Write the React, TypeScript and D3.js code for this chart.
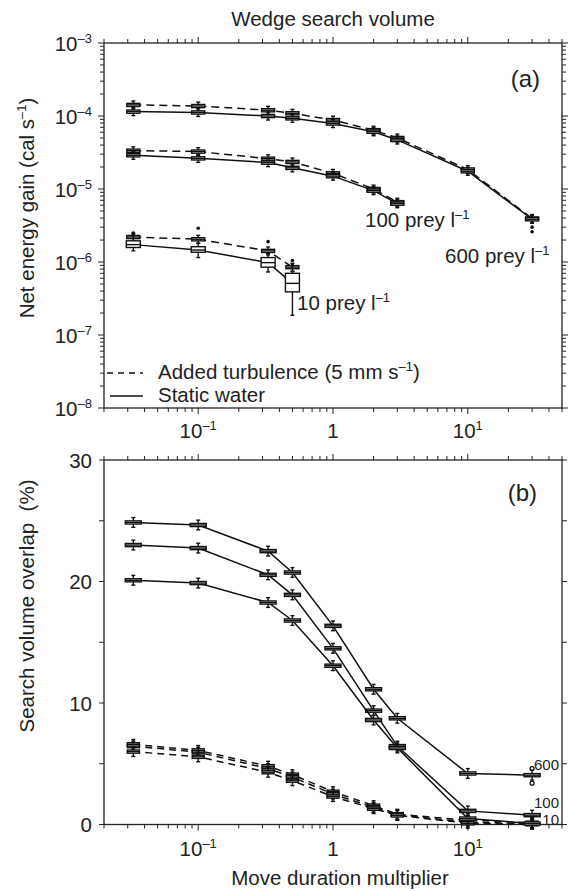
import React from "react";
import * as d3 from "d3";

const W = 568;
const H = 891;
const FONT = "'Liberation Sans', Arial, Helvetica, sans-serif";
const FS = 20.5;
const SUP = 13;

// x values (move duration multiplier)
const xs = [0.033, 0.1, 0.33, 0.5, 1, 2, 3, 10, 30];

// Panel (a): net energy gain (cal s^-1)
const aStatic600 = [1.15e-4, 1.12e-4, 1.0e-4, 9.3e-5, 7.9e-5, 6.1e-5, 4.7e-5, 1.75e-5, 3.85e-6];
const aTurb600 = [1.42e-4, 1.37e-4, 1.2e-4, 1.09e-4, 8.8e-5, 6.4e-5, 5.0e-5, 1.85e-5, 3.95e-6];
const aStatic100 = [2.9e-5, 2.63e-5, 2.3e-5, 1.95e-5, 1.5e-5, 9.5e-6, 6.3e-6];
const aTurb100 = [3.35e-5, 3.26e-5, 2.6e-5, 2.35e-5, 1.64e-5, 1.0e-5, 6.6e-6];
const aStatic10 = [1.73e-6, 1.46e-6, 9.8e-7, 5.1e-7];
const aTurb10 = [2.2e-6, 2.05e-6, 1.42e-6, 8.5e-7];
// box spreads for 10 prey static (q1, q3, whisker low, whisker high)
const aStatic10Q1 = [1.58e-6, 1.36e-6, 8.5e-7, 3.9e-7];
const aStatic10Q3 = [1.95e-6, 1.62e-6, 1.15e-6, 7.0e-7];
const aStatic10WLo = [1.42e-6, 1.15e-6, 7.3e-7, 1.86e-7];
const aStatic10WHi = [2.35e-6, 1.8e-6, 1.3e-6, 7.4e-7];
// outliers in panel (a): [x, value]
const aOutliersX = [30, 30, 0.5, 0.5, 0.33, 0.1, 0.033];
const aOutliersV = [2.6e-6, 3.0e-6, 9.0e-7, 1.05e-6, 1.9e-6, 2.9e-6, 2.5e-6];

// Panel (b): search volume overlap (%)
const bStatic600 = [24.86, 24.65, 22.5, 20.74, 16.35, 11.13, 8.74, 4.2, 4.06];
const bStatic100 = [23.0, 22.75, 20.55, 18.9, 14.5, 9.37, 6.45, 1.12, 0.77];
const bStatic10 = [20.1, 19.87, 18.27, 16.79, 13.07, 8.6, 6.3, 0.49, 0.08];
const bTurb600 = [6.6, 6.1, 4.8, 4.1, 2.7, 1.55, 0.85, 0.35, 0.15];
const bTurb100 = [6.45, 5.95, 4.6, 3.9, 2.5, 1.4, 0.8, 0.2, 0.06];
const bTurb10 = [6.0, 5.57, 4.3, 3.6, 2.3, 1.3, 0.75, 0.1, 0.02];
const bOutliersX = [30, 30];
const bOutliersV = [3.4, 4.6];

const xTickVals = [0.1, 1, 10];
const yATickExps = [-3, -4, -5, -6, -7, -8];
const yBTicks = [0, 10, 20, 30];

const LEFT = 104;
const RIGHT = 562;
const A_TOP = 43;
const A_BOT = 408;
const B_TOP = 460;
const B_BOT = 824.5;

const x = d3.scaleLog().domain([0.02, 50]).range([LEFT, RIGHT]);
const yA = d3.scaleLog().domain([1e-8, 1e-3]).range([A_BOT, A_TOP]);
const yB = d3.scaleLinear().domain([0, 30]).range([B_BOT, B_TOP]);

function minorLogTicks(lo: number, hi: number) {
  const out: { v: number; major: boolean }[] = [];
  for (let e = Math.floor(Math.log10(lo)); e <= Math.ceil(Math.log10(hi)); e++) {
    for (let m = 1; m <= 9; m++) {
      const v = m * Math.pow(10, e);
      if (v >= lo * 0.999 && v <= hi * 1.001) out.push({ v, major: m === 1 });
    }
  }
  return out;
}

function Sup({ base, exp, x: px, y: py, anchor = "middle", size = FS }: any) {
  return (
    <text x={px} y={py} textAnchor={anchor} fontSize={size} fontFamily={FONT} fill="#222">
      {base}
      {exp !== null && exp !== undefined && (
        <tspan dy={-8} fontSize={SUP}>
          {exp}
        </tspan>
      )}
    </text>
  );
}

function XAxes({ top, bottom }: { top: number; bottom: number }) {
  const ticks = minorLogTicks(0.02, 50);
  return (
    <g stroke="#222" strokeWidth={1}>
      {ticks.map((t, i) => {
        const px = x(t.v);
        const len = t.major ? 6 : 4;
        return (
          <g key={i}>
            <line x1={px} x2={px} y1={top} y2={top - len} />
            <line x1={px} x2={px} y1={bottom} y2={bottom + len} />
          </g>
        );
      })}
    </g>
  );
}

function Frame({ top, bottom }: { top: number; bottom: number }) {
  return <rect x={LEFT} y={top} width={RIGHT - LEFT} height={bottom - top} fill="none" stroke="#222" strokeWidth={1.3} />;
}

function lineOf(vals: number[], ys: any) {
  return d3
    .line<number>()
    .x((_, i) => x(xs[i]))
    .y((v) => ys(v))(vals) as string;
}

function Box({ cx, yMid, yQ1, yQ3, yWLo, yWHi, hw = 6 }: any) {
  const top = Math.min(yQ1, yQ3);
  const h = Math.abs(yQ3 - yQ1);
  return (
    <g stroke="#111" strokeWidth={1.4}>
      <line x1={cx} x2={cx} y1={yWLo} y2={yWHi} />
      <line x1={cx - 2} x2={cx + 2} y1={yWLo} y2={yWLo} />
      <line x1={cx - 2} x2={cx + 2} y1={yWHi} y2={yWHi} />
      <rect x={cx - hw} y={top} width={hw * 2} height={h} fill="#fff" />
      <line x1={cx - hw} x2={cx + hw} y1={yMid} y2={yMid} />
    </g>
  );
}

function SeriesA({ vals, dashed, q1, q3, wlo, whi }: any) {
  return (
    <g>
      <path d={lineOf(vals, yA)} fill="none" stroke="#111" strokeWidth={1.5} strokeDasharray={dashed ? "8,5" : undefined} />
      {vals.map((v: number, i: number) => {
        const lo = q1 ? q1[i] : v * 0.95;
        const hi = q3 ? q3[i] : v * 1.05;
        const wl = wlo ? wlo[i] : v * 0.88;
        const wh = whi ? whi[i] : v * 1.13;
        return <Box key={i} cx={x(xs[i])} yMid={yA(v)} yQ1={yA(lo)} yQ3={yA(hi)} yWLo={yA(wl)} yWHi={yA(wh)} hw={q1 ? 7 : 6.5} />;
      })}
    </g>
  );
}

function SeriesB({ vals, dashed }: any) {
  return (
    <g>
      <path d={lineOf(vals, yB)} fill="none" stroke="#111" strokeWidth={1.5} strokeDasharray={dashed ? "7,5" : undefined} />
      {vals.map((v: number, i: number) => (
        <Box key={i} cx={x(xs[i])} yMid={yB(v)} yQ1={yB(v - 0.13)} yQ3={yB(v + 0.13)} yWLo={yB(v - 0.4)} yWHi={yB(v + 0.4)} hw={dashed ? 6 : 8} />
      ))}
    </g>
  );
}

export default function App() {
  const yAMinor = minorLogTicks(1e-8, 1e-3);
  const yBMinor = d3.range(0, 31, 5);
  return (
    <svg width={W} height={H} style={{ position: "absolute", left: 0, top: 0, background: "#fff" }}>
      <rect x={0} y={0} width={W} height={H} fill="#fff" />
      {/* Titles */}
      <text x={333} y={26} textAnchor="middle" fontSize={FS} fontFamily={FONT} fill="#222">
        Wedge search volume
      </text>
      <text x={340} y={885} textAnchor="middle" fontSize={FS} fontFamily={FONT} fill="#222">
        Move duration multiplier
      </text>
      <text transform="translate(34,208) rotate(-90)" textAnchor="middle" fontSize={FS} fontFamily={FONT} fill="#222">
        Net energy gain (cal s
        <tspan dy={-8} fontSize={SUP}>–1</tspan>
        <tspan dy={8}>)</tspan>
      </text>
      <text transform="translate(34,606) rotate(-90)" textAnchor="middle" fontSize={FS} fontFamily={FONT} fill="#222" style={{ whiteSpace: "pre" }}>
        {"Search volume overlap  (%)"}
      </text>

      {/* Panel (a) */}
      <Frame top={A_TOP} bottom={A_BOT} />
      <XAxes top={A_TOP} bottom={A_BOT} />
      <g stroke="#222" strokeWidth={1}>
        {yAMinor.map((t, i) => {
          const py = yA(t.v);
          const len = t.major ? 6 : 4;
          return (
            <g key={i}>
              <line x1={LEFT} x2={LEFT - len} y1={py} y2={py} />
              <line x1={RIGHT} x2={RIGHT + len} y1={py} y2={py} />
            </g>
          );
        })}
      </g>
      {yATickExps.map((e) => (
        <Sup key={e} base="10" exp={"–" + Math.abs(e)} x={92} y={yA(Math.pow(10, e)) + 7.5} anchor="end" />
      ))}
      {xTickVals.map((v) => (
        <Sup key={v} base={v === 1 ? "1" : "10"} exp={v === 1 ? null : v < 1 ? "–1" : "1"} x={x(v)} y={438} />
      ))}
      <text x={540} y={87} textAnchor="end" fontSize={24} fontFamily={FONT} fill="#222">(a)</text>

      <SeriesA vals={aTurb600} dashed />
      <SeriesA vals={aStatic600} />
      <SeriesA vals={aTurb100} dashed />
      <SeriesA vals={aStatic100} />
      <SeriesA vals={aTurb10} dashed />
      <SeriesA vals={aStatic10} q1={aStatic10Q1} q3={aStatic10Q3} wlo={aStatic10WLo} whi={aStatic10WHi} />
      {aOutliersX.map((xv, i) => (
        <circle key={i} cx={x(xv)} cy={yA(aOutliersV[i])} r={1.8} fill="#111" />
      ))}

      <Sup base="100 prey l" exp="–1" x={365} y={227} anchor="start" />
      <Sup base="600 prey l" exp="–1" x={445} y={263} anchor="start" />
      <Sup base="10 prey l" exp="–1" x={297} y={310} anchor="start" />

      {/* Legend */}
      <line x1={107} x2={143} y1={373} y2={373} stroke="#111" strokeWidth={1.5} strokeDasharray="6,5" />
      <line x1={110} x2={143} y1={396} y2={396} stroke="#111" strokeWidth={1.5} />
      <text x={158} y={379} fontSize={FS} fontFamily={FONT} fill="#222">
        Added turbulence (5 mm s<tspan dy={-8} fontSize={SUP}>–1</tspan>
        <tspan dy={8}>)</tspan>
      </text>
      <text x={158} y={402} fontSize={FS} fontFamily={FONT} fill="#222">
        Static water
      </text>

      {/* Panel (b) */}
      <Frame top={B_TOP} bottom={B_BOT} />
      <XAxes top={B_TOP} bottom={B_BOT} />
      <g stroke="#222" strokeWidth={1}>
        {yBMinor.map((v) => (
          <g key={v}>
            <line x1={LEFT} x2={LEFT - 5} y1={yB(v)} y2={yB(v)} />
            <line x1={RIGHT} x2={RIGHT + 5} y1={yB(v)} y2={yB(v)} />
          </g>
        ))}
      </g>
      {yBTicks.map((v) => (
        <text key={v} x={92} y={yB(v) + 7.5} textAnchor="end" fontSize={FS} fontFamily={FONT} fill="#222">
          {v}
        </text>
      ))}
      {xTickVals.map((v) => (
        <Sup key={v} base={v === 1 ? "1" : "10"} exp={v === 1 ? null : v < 1 ? "–1" : "1"} x={x(v)} y={856} />
      ))}
      <text x={537} y={501} textAnchor="end" fontSize={24} fontFamily={FONT} fill="#222">(b)</text>

      <SeriesB vals={bTurb600} dashed />
      <SeriesB vals={bTurb100} dashed />
      <SeriesB vals={bTurb10} dashed />
      <SeriesB vals={bStatic600} />
      <SeriesB vals={bStatic100} />
      <SeriesB vals={bStatic10} />
      {bOutliersX.map((xv, i) => (
        <circle key={i} cx={x(xv)} cy={yB(bOutliersV[i])} r={2} fill="none" stroke="#111" strokeWidth={1.3} />
      ))}

      <text x={559} y={770} textAnchor="end" fontSize={15} fontFamily={FONT} fill="#222">600</text>
      <text x={559} y={807.5} textAnchor="end" fontSize={15} fontFamily={FONT} fill="#222">100</text>
      <text x={559} y={825} textAnchor="end" fontSize={15} fontFamily={FONT} fill="#222">10</text>
    </svg>
  );
}
